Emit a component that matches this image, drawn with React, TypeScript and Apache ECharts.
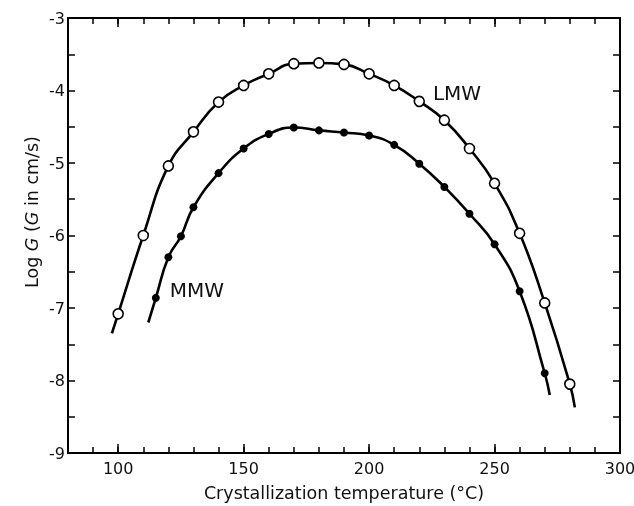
import React, { useEffect, useRef } from "react";
import * as echarts from "echarts";

// LMW (open circles)
const lmwTemps = [100, 110, 120, 130, 140, 150, 160, 170, 180, 190, 200, 210, 220, 230, 240, 250, 260, 270, 280];
const lmwLogG = [-7.08, -6.0, -5.04, -4.57, -4.16, -3.93, -3.77, -3.63, -3.62, -3.64, -3.77, -3.93, -4.15, -4.41, -4.8, -5.28, -5.97, -6.93, -8.05];
const lmwCurveStart = [97.5, -7.35];
const lmwCurveEnd = [282, -8.37];

// MMW (filled circles)
const mmwTemps = [115, 120, 125, 130, 140, 150, 160, 170, 180, 190, 200, 210, 220, 230, 240, 250, 260, 270];
const mmwLogG = [-6.86, -6.3, -6.01, -5.61, -5.14, -4.8, -4.6, -4.51, -4.55, -4.58, -4.62, -4.75, -5.01, -5.33, -5.7, -6.12, -6.77, -7.9];
const mmwCurveStart = [112, -7.2];
const mmwCurveEnd = [272, -8.2];

const xLabels = [100, 150, 200, 250, 300];
const xMajorTicks = [100, 150, 200, 250];

const FONT = "'DejaVu Sans', sans-serif";

export default function App() {
  const ref = useRef<HTMLDivElement>(null);
  useEffect(() => {
    if (!ref.current) return;
    const chart = echarts.init(ref.current, null, { renderer: "svg" });
    const lmwPts = lmwTemps.map((t, i) => [t, lmwLogG[i]]);
    const mmwPts = mmwTemps.map((t, i) => [t, mmwLogG[i]]);
    const lineStyle = { color: "#000", width: 2.6 };
    const baseX = (pos: string, showLine: boolean) => ({
      type: "value",
      position: pos,
      min: 80,
      max: 300,
      interval: 10,
      axisLine: { show: showLine, lineStyle: { color: "#000", width: 2 } },
      splitLine: { show: false },
    });
    chart.setOption({
      animation: false,
      grid: { left: 68, right: 14, top: 18, bottom: 53, outerBoundsMode: "none" },
      xAxis: [
        {
          ...baseX("bottom", true),
          axisTick: { show: true, inside: true, length: 6, lineStyle: { color: "#000", width: 1.5 } },
          axisLabel: { customValues: xLabels, color: "#111", fontSize: 16, fontFamily: FONT, margin: 7 },
          name: "Crystallization temperature (°C)",
          nameLocation: "middle",
          nameGap: 31,
          nameTextStyle: { color: "#111", fontSize: 17.5, fontFamily: FONT },
        },
        {
          ...baseX("bottom", false),
          axisTick: { show: true, inside: true, length: 9, customValues: xMajorTicks, lineStyle: { color: "#000", width: 1.5 } },
          axisLabel: { show: false },
        },
        {
          ...baseX("top", true),
          axisTick: { show: true, inside: true, length: 6, lineStyle: { color: "#000", width: 1.5 } },
          axisLabel: { show: false },
        },
        {
          ...baseX("top", false),
          axisTick: { show: true, inside: true, length: 9, customValues: xMajorTicks, lineStyle: { color: "#000", width: 1.5 } },
          axisLabel: { show: false },
        },
      ],
      yAxis: [
        {
          type: "value",
          position: "left",
          min: -9,
          max: -3,
          interval: 1,
          axisLine: { show: true, lineStyle: { color: "#000", width: 2 } },
          axisTick: { show: true, inside: true, length: 7, lineStyle: { color: "#000", width: 1.5 } },
          minorTick: { show: true, splitNumber: 2, length: 7, lineStyle: { color: "#000", width: 1.5 } },
          splitLine: { show: false },
          axisLabel: { color: "#111", fontSize: 16, fontFamily: FONT, margin: 3 },
        },
        {
          type: "value",
          position: "right",
          min: -9,
          max: -3,
          interval: 1,
          axisLine: { show: true, lineStyle: { color: "#000", width: 2 } },
          axisTick: { show: true, inside: true, length: 7, lineStyle: { color: "#000", width: 1.5 } },
          minorTick: { show: true, splitNumber: 2, length: 7, lineStyle: { color: "#000", width: 1.5 } },
          splitLine: { show: false },
          axisLabel: { show: false },
        },
      ],
      graphic: [
        {
          type: "text",
          x: 32,
          y: 212,
          rotation: Math.PI / 2,
          style: {
            text: "{a|Log }{i|G}{a| (}{i|G}{a| in cm/s)}",
            rich: {
              a: { fontSize: 17.5, fontFamily: FONT, fill: "#111" },
              i: { fontSize: 17.5, fontFamily: FONT, fontStyle: "italic", fill: "#111" },
            },
            align: "center",
            verticalAlign: "middle",
          },
        },
        {
          type: "text",
          x: 457,
          y: 93,
          style: { text: "LMW", fontSize: 20, fontFamily: FONT, fill: "#111", align: "center", verticalAlign: "middle" },
        },
        {
          type: "text",
          x: 197,
          y: 290,
          style: { text: "MMW", fontSize: 20, fontFamily: FONT, fill: "#111", align: "center", verticalAlign: "middle" },
        },
      ],
      series: [
        {
          type: "line",
          smooth: 0.5,
          symbol: "none",
          lineStyle,
          data: [lmwCurveStart, ...lmwPts, lmwCurveEnd],
          z: 2,
        },
        {
          type: "line",
          smooth: 0.5,
          symbol: "none",
          lineStyle,
          data: [mmwCurveStart, ...mmwPts, mmwCurveEnd],
          z: 2,
        },
        {
          type: "scatter",
          symbol: "circle",
          symbolSize: 10,
          itemStyle: { color: "#fff", borderColor: "#000", borderWidth: 1.6, opacity: 1 },
          data: lmwPts,
          z: 3,
        },
        {
          type: "scatter",
          symbol: "circle",
          symbolSize: 8,
          itemStyle: { color: "#000", opacity: 1 },
          data: mmwPts,
          z: 3,
        },
      ],
    });
    return () => chart.dispose();
  }, []);
  return <div ref={ref} style={{ position: "fixed", left: 0, top: 0, width: 634, height: 506 }} />;
}
